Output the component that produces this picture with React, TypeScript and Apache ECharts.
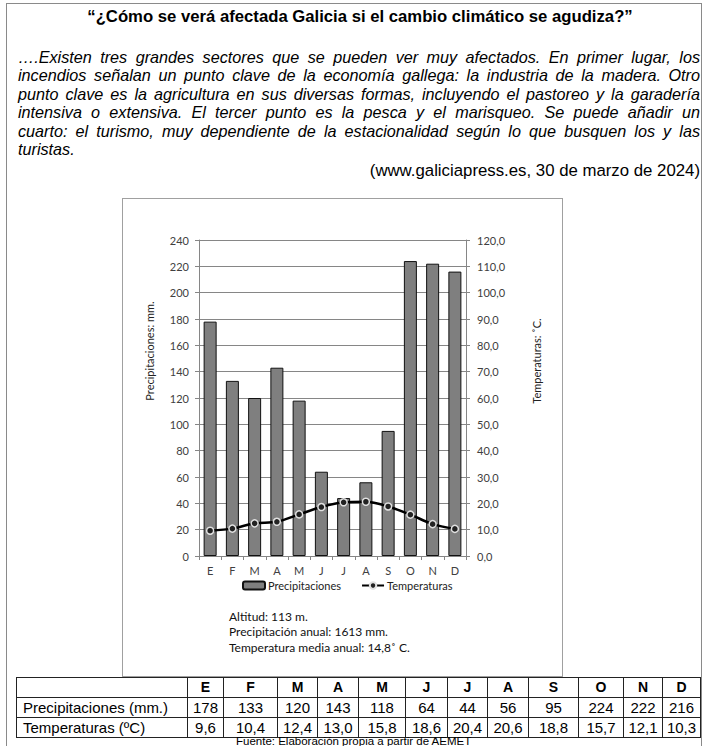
import React, { useEffect, useRef } from "react";
import * as echarts from "echarts";

const months = ["E", "F", "M", "A", "M", "J", "J", "A", "S", "O", "N", "D"];
const precipitation = [178, 133, 120, 143, 118, 64, 44, 56, 95, 224, 222, 216];
const temperature = [9.6, 10.4, 12.4, 13.0, 15.8, 18.6, 20.4, 20.6, 18.8, 15.7, 12.1, 10.3];
const seriesNames = ["Precipitaciones", "Temperaturas"];
const rowLabels = ["Precipitaciones (mm.)", "Temperaturas (ºC)"];
const infoLines = ["Altitud: 113 m.", "Precipitación anual: 1613 mm.", "Temperatura media anual: 14,8˚ C."];
const axisTitles = ["Precipitaciones: mm.", "Temperaturas: ˚C."];
const title = "“¿Cómo se verá afectada Galicia si el cambio climático se agudiza?”";
const paragraphLines = [
  "….Existen tres grandes sectores que se pueden ver muy afectados. En primer lugar, los",
  "incendios señalan un punto clave de la economía gallega: la industria de la madera. Otro",
  "punto clave es la agricultura en sus diversas formas, incluyendo el pastoreo y la garadería",
  "intensiva o extensiva. El tercer punto es la pesca y el marisqueo. Se puede añadir un",
  "cuarto: el turismo, muy dependiente de la estacionalidad según lo que busquen los y las",
  "turistas.",
];
const citation = "(www.galiciapress.es, 30 de marzo de 2024)";
const source = "Fuente: Elaboración propia a partir de AEMET";

const colWidths = [171, 36, 54, 40, 41, 47, 42, 40, 41, 50, 45, 39, 38];

const fmt1 = (v: number) => v.toFixed(1).replace(".", ",");

function Chart() {
  const ref = useRef<HTMLDivElement>(null);
  useEffect(() => {
    if (!ref.current) return;
    const chart = echarts.init(ref.current, null, { renderer: "svg" });
    const font = "Lato, 'Open Sans', sans-serif";
    const grey = "#868686";
    chart.setOption({
      animation: false,
      backgroundColor: "#fff",
      textStyle: { fontFamily: font },
      grid: { left: 76, right: 96, top: 41, bottom: 120 },
      legend: {
        left: 114,
        top: 376,
        itemWidth: 22,
        itemHeight: 8,
        itemGap: 20,
        textStyle: { fontSize: 11, color: "#222", fontFamily: font, padding: [0, 0, 0, -2] },
        data: seriesNames,
      },
      xAxis: {
        type: "category",
        data: months,
        axisLine: { lineStyle: { color: grey, width: 1 } },
        axisTick: { show: true, length: 4, lineStyle: { color: grey } },
        axisLabel: { color: "#404040", fontSize: 11, margin: 9 },
      },
      yAxis: [
        {
          type: "value",
          min: 0,
          max: 240,
          interval: 20,
          axisLine: { show: true, lineStyle: { color: grey } },
          axisTick: { show: true, length: 4, lineStyle: { color: grey } },
          axisLabel: { color: "#404040", fontSize: 11, margin: 10 },
          splitLine: { show: true, lineStyle: { color: grey, width: 1 } },
        },
        {
          type: "value",
          min: 0,
          max: 120,
          interval: 10,
          position: "right",
          axisLine: { show: true, lineStyle: { color: grey } },
          axisTick: { show: true, length: 4, lineStyle: { color: grey } },
          axisLabel: { color: "#404040", fontSize: 11, margin: 11, formatter: (v: number) => fmt1(v) },
          splitLine: { show: false },
        },
      ],
      series: [
        {
          name: seriesNames[0],
          type: "bar",
          data: precipitation,
          barWidth: 13,
          itemStyle: { color: "#7f7f7f", borderColor: "#111", borderWidth: 1 },
        },
        {
          name: seriesNames[1],
          type: "line",
          yAxisIndex: 1,
          data: temperature,
          smooth: 0.3,
          symbol: "circle",
          symbolSize: 7,
          lineStyle: { color: "#000", width: 2.5 },
          itemStyle: { color: "#222", borderColor: "#e0e0e0", borderWidth: 1.5 },
        },
      ],
      graphic: [
        {
          type: "text",
          x: 26,
          y: 152,
          rotation: Math.PI / 2,
          style: { text: axisTitles[0], fontSize: 11, fill: "#222", fontFamily: font, align: "center", verticalAlign: "middle" },
        },
        {
          type: "text",
          x: 413,
          y: 162,
          rotation: Math.PI / 2,
          style: { text: axisTitles[1], fontSize: 11, fill: "#222", fontFamily: font, align: "center", verticalAlign: "middle" },
        },
        ...infoLines.map((t, i) => ({
          type: "text",
          left: 106,
          top: 411 + i * 15.5,
          style: { text: t, fontSize: 12, fill: "#111", fontFamily: font },
        })),
      ],
    });
    return () => chart.dispose();
  }, []);
  return (
    <div
      ref={ref}
      style={{
        position: "absolute",
        left: 122,
        top: 198,
        width: 441,
        height: 479,
        border: "1px solid #a0a0a0",
        boxSizing: "border-box",
      }}
    />
  );
}

export default function App() {
  const arial = "'Liberation Sans', Arial, sans-serif";
  const cell: React.CSSProperties = {
    border: "1px solid #222",
    padding: 0,
    height: 19,
    textAlign: "center",
    fontSize: 15,
    lineHeight: "19px",
    overflow: "hidden",
    whiteSpace: "nowrap",
  };
  return (
    <div
      style={{
        position: "absolute",
        left: 0,
        top: 0,
        width: 702,
        height: 746,
        overflow: "hidden",
        background: "#fff",
        fontFamily: arial,
        color: "#000",
      }}
    >
      <div
        style={{
          position: "absolute",
          left: 6,
          top: 3,
          width: 694,
          height: 760,
          borderLeft: "1px solid #8a8a8a",
          borderRight: "1px solid #8a8a8a",
          borderTop: "1px solid #8a8a8a",
        }}
      />
      <div
        style={{
          position: "absolute",
          left: 0,
          width: 720,
          top: 7,
          textAlign: "center",
          fontWeight: "bold",
          fontSize: 16.7,
          lineHeight: "20px",
          whiteSpace: "nowrap",
        }}
      >
        {title}
      </div>
      <div style={{ position: "absolute", left: 18, top: 47.5, width: 682, fontStyle: "italic", fontSize: 16.2 }}>
        {paragraphLines.map((l, i) => (
          <div
            key={i}
            style={{
              height: 18.6,
              lineHeight: "18.6px",
              textAlign: "justify",
              textAlignLast: i < paragraphLines.length - 1 ? "justify" : "left",
              whiteSpace: "nowrap",
            }}
          >
            {l}
          </div>
        ))}
      </div>
      <div style={{ position: "absolute", right: 2, top: 161, fontSize: 16.8, lineHeight: "20px", textAlign: "right", whiteSpace: "nowrap" }}>
        {citation}
      </div>
      <Chart />
      <table
        style={{
          position: "absolute",
          left: 16,
          top: 677,
          borderCollapse: "collapse",
          tableLayout: "fixed",
          width: colWidths.reduce((a, b) => a + b, 0),
          fontFamily: arial,
        }}
      >
        <colgroup>
          {colWidths.map((w, i) => (
            <col key={i} style={{ width: w }} />
          ))}
        </colgroup>
        <tbody>
          <tr>
            <td style={cell}></td>
            {months.map((m, i) => (
              <td key={i} style={{ ...cell, fontWeight: "bold", fontSize: 14 }}>
                {m}
              </td>
            ))}
          </tr>
          <tr>
            <td style={{ ...cell, textAlign: "left", paddingLeft: 6 }}>{rowLabels[0]}</td>
            {precipitation.map((v, i) => (
              <td key={i} style={cell}>
                {v}
              </td>
            ))}
          </tr>
          <tr>
            <td style={{ ...cell, textAlign: "left", paddingLeft: 6 }}>{rowLabels[1]}</td>
            {temperature.map((v, i) => (
              <td key={i} style={cell}>
                {fmt1(v)}
              </td>
            ))}
          </tr>
        </tbody>
      </table>
      <div style={{ position: "absolute", left: 236, top: 736, fontSize: 11.5, lineHeight: "10px", whiteSpace: "nowrap" }}>
        {source}
      </div>
    </div>
  );
}
